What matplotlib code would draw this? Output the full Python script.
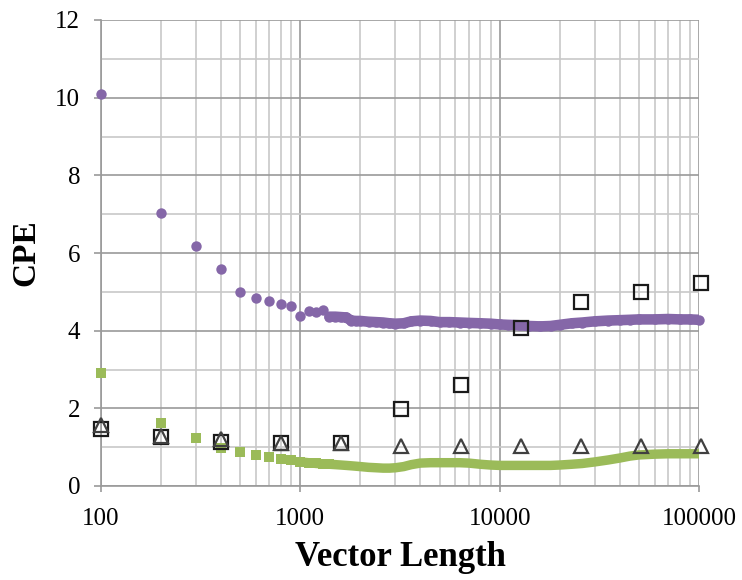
import matplotlib
matplotlib.use("Agg")
import matplotlib.pyplot as plt
from matplotlib.ticker import LogLocator, FixedLocator, NullFormatter, MultipleLocator

# ------------------------------------------------------------------
# Data
# ------------------------------------------------------------------
dense_x = [100, 200, 300, 400, 500, 600, 700, 800, 900, 1000,
           1100, 1200, 1300, 1400, 1500, 1600, 1700, 1800, 1900, 2000,
           2200, 2400, 2600, 2800, 3000, 3300, 3600, 4000, 4500, 5000,
           5600, 6300, 7000, 8000, 9000, 10000, 11000, 12500, 14000, 16000,
           18000, 20000, 23000, 26000, 30000, 35000, 40000, 45000, 50000, 60000,
           70000, 80000, 90000, 100000]

purple_y = [10.1, 7.03, 6.18, 5.6, 5.0, 4.83, 4.76, 4.68, 4.64, 4.39,
            4.51, 4.47, 4.52, 4.36, 4.36, 4.35, 4.34, 4.26, 4.25, 4.25,
            4.23, 4.22, 4.21, 4.19, 4.18, 4.19, 4.24, 4.26, 4.25, 4.22,
            4.22, 4.21, 4.20, 4.19, 4.18, 4.16, 4.15, 4.14, 4.12, 4.11,
            4.12, 4.15, 4.19, 4.21, 4.24, 4.26, 4.27, 4.28, 4.29, 4.29,
            4.30, 4.29, 4.29, 4.28]

green_y = [2.9, 1.63, 1.24, 0.97, 0.87, 0.79, 0.74, 0.69, 0.66, 0.62,
           0.60, 0.58, 0.57, 0.56, 0.55, 0.54, 0.53, 0.52, 0.51, 0.50,
           0.48, 0.47, 0.46, 0.46, 0.47, 0.50, 0.55, 0.59, 0.60, 0.60,
           0.60, 0.60, 0.59, 0.56, 0.54, 0.53, 0.53, 0.53, 0.53, 0.53,
           0.53, 0.54, 0.56, 0.58, 0.62, 0.67, 0.72, 0.77, 0.80, 0.82,
           0.83, 0.83, 0.83, 0.83]

sparse_x = [100, 200, 400, 800, 1600, 3200, 6400, 12800, 25600, 51200, 102400]
square_y = [1.48, 1.25, 1.13, 1.10, 1.10, 1.97, 2.60, 4.08, 4.73, 5.00, 5.23]
triangle_y = [1.57, 1.30, 1.20, 1.12, 1.12, 1.03, 1.02, 1.02, 1.02, 1.02, 1.02]

# index from which the dense markers merge into a band
purple_band_start = 13
green_band_start = 10

purple = "#8567a8"
green = "#9bbb59"

plt.rcParams["font.family"] = ["Liberation Serif", "DejaVu Serif"]

fig = plt.figure(figsize=(7.42, 5.8), dpi=100)
ax = fig.add_axes([101 / 742, 94 / 580, 598 / 742, 466 / 580])

# ------------------------------------------------------------------
# Series
# ------------------------------------------------------------------
ax.plot(dense_x[purple_band_start:], purple_y[purple_band_start:],
        color=purple, lw=7.6, solid_capstyle="round", zorder=3)
ax.plot(dense_x, purple_y, "o", color=purple, ms=7.5, mew=0,
        zorder=3, clip_on=False)

ax.plot(dense_x[green_band_start:], green_y[green_band_start:],
        color=green, lw=6.8, solid_capstyle="projecting", zorder=3)
ax.plot(dense_x[:green_band_start + 4], green_y[:green_band_start + 4], "s",
        color=green, ms=6.8, mew=0, zorder=3, clip_on=False)

ax.plot(sparse_x, square_y, "s", mfc="none", mec="#1a1a1a", ms=9.5,
        mew=1.6, zorder=5, clip_on=False)
ax.plot(sparse_x, triangle_y, "^", mfc="none", mec="#404040", ms=9.5,
        mew=1.6, zorder=5, clip_on=False)

# ------------------------------------------------------------------
# Axes
# ------------------------------------------------------------------
ax.set_xscale("log")
ax.set_xlim(100, 100000)
ax.set_ylim(0, 12)

ax.xaxis.set_major_locator(FixedLocator([100, 1000, 10000, 100000]))
ax.xaxis.set_minor_locator(LogLocator(base=10, subs=range(2, 10)))
ax.xaxis.set_minor_formatter(NullFormatter())
ax.set_xticklabels(["100", "1000", "10000", "100000"])
ax.yaxis.set_major_locator(MultipleLocator(2))
ax.yaxis.set_minor_locator(MultipleLocator(1))

ax.grid(True, which="major", color="#9a9a9a", lw=1.2, zorder=0)
ax.grid(True, which="minor", color="#c8c8c8", lw=1.2, zorder=0)
ax.set_axisbelow(True)

for side in ("top", "right"):
    ax.spines[side].set_visible(False)
for side in ("left", "bottom"):
    ax.spines[side].set_color("#9a9a9a")
    ax.spines[side].set_linewidth(1.2)

ax.tick_params(axis="both", which="major", direction="out", color="#9a9a9a",
               width=1.2, labelsize=18)
ax.tick_params(axis="y", which="major", length=5, pad=10)
ax.tick_params(axis="x", which="major", length=4, pad=12)
ax.tick_params(axis="both", which="minor", length=0)

ax.set_xlabel("Vector Length", fontsize=25, fontweight="bold", labelpad=8)
ax.set_ylabel("CPE", fontsize=24, fontweight="bold", labelpad=10)

fig.savefig("out.png", dpi=100)
